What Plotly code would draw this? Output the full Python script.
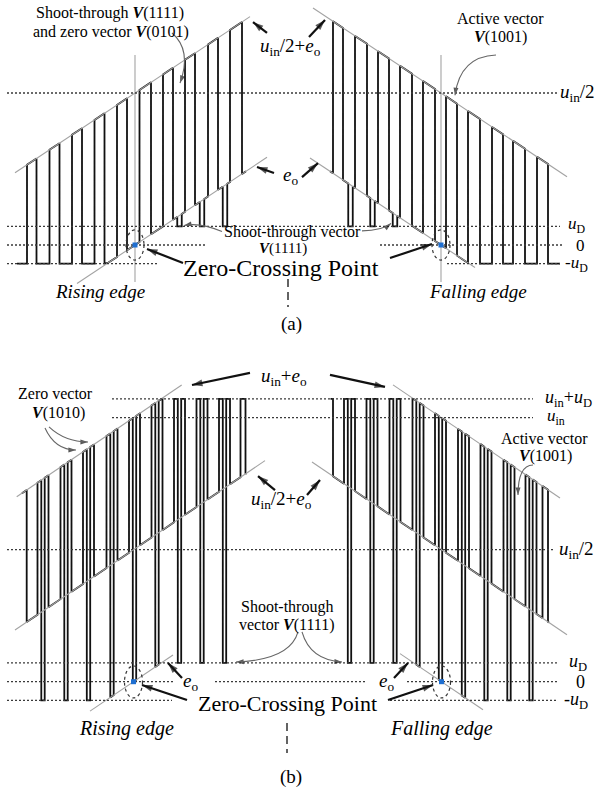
import numpy as np
import plotly.graph_objects as go

# ---------------------------------------------------------------
# Voltage levels (unit = u_in/2) and ramp model of e_o near zero
# ---------------------------------------------------------------
U_HALF = 1.0            # u_in/2
U_IN = 2.0              # u_in
UD_A = 0.122            # diode drop u_D, panel (a) scale
UD_B = 0.142            # diode drop u_D, panel (b) scale
K_A = 0.00437           # de_o/dt in panel (a)
K_B = 0.00513           # de_o/dt in panel (b)
TZ_A = [135.0, 441.0]   # zero-crossing instants (rising, falling), panel (a)
TZ_B = [133.5, 441.5]   # zero-crossing instants (rising, falling), panel (b)

# Panel (a): switching instants of the output voltage
A1_RISE = [27, 49.5, 72, 94.5, 117, 139.5, 163, 185, 208, 230]
A1_FALL = [36.5, 59.5, 82, 104.5, 127, 151, 173, 195, 218, 242]
A1_NOTCH = [179.5, 202, 225]          # shoot-through instants
A1_SPAN = [17, 246]
A2_RISE = [333, 355, 378, 400, 423, 446, 468, 492, 513, 537]
A2_FALL = [343, 367, 389, 412, 435, 457, 480, 503, 525, 548]
A2_NOTCH = [350.5, 372.5, 395]
A2_SPAN = [330, 560]

# Panel (b): centres of the active / shoot-through groups
B1_GROUPS = [43, 66, 88.5, 112, 134.5, 157, 179.5, 202, 224.5]
B1_EDGES = [22, 26.7, 240.5, 245.5, 246.5]   # start, first fall, last rise, last fall, end
B2_GROUPS = [349.5, 372, 395, 418, 440.5, 463.5, 486, 509, 531]
B2_EDGES = [330.5, 333, 542.5, 548, 549]

# Envelope (grey guide line) extents in time
ENV_A = {"up_l": [15, 250], "lo_l": [77, 267], "up_r": [313, 567], "lo_r": [310, 475]}
ENV_B = {"up_l": [16.7, 181.7], "lo_l": [15, 265], "eo_l": [90, 173],
         "up_r": [393, 560], "lo_r": [312, 567], "eo_r": [400, 483]}

NOTCH_W = 4.5
GROUP_HALF = 5.5
ST_HALF = 1.7

BLACK = "#111111"
GREY = "#a3a3a3"
DOT = "#3a3a3a"
SERIF = "Liberation Serif, Times New Roman, serif"

fig = go.Figure()


def eo_a(t, side):
    return K_A * (t - TZ_A[0]) if side == 0 else -K_A * (t - TZ_A[1])


def eo_b(t, side):
    return K_B * (t - TZ_B[0]) if side == 0 else -K_B * (t - TZ_B[1])


def build(segments, step=0.5):
    xs, ys = [], []
    for t0, t1, f in segments:
        n = max(2, int(np.ceil((t1 - t0) / step)) + 1)
        for t in np.linspace(t0, t1, n):
            xs.append(float(t))
            ys.append(float(f(t)))
    return xs, ys


def line(x, y, yref, color=BLACK, width=1.8, dash=None):
    fig.add_trace(go.Scatter(x=x, y=y, mode="lines", yaxis=yref,
                             line=dict(color=color, width=width, dash=dash),
                             hoverinfo="skip", showlegend=False))


# ---------------- Panel (a) waveforms ----------------
def wave_a(rises, falls, notches, span, side):
    high = lambda t: U_HALF + eo_a(t, side)
    low = lambda t: max(-UD_A, eo_a(t, side))
    st = lambda t: UD_A
    lows = [(span[0], rises[0])] + [(falls[i], rises[i + 1]) for i in range(len(rises) - 1)] \
        + [(falls[-1], span[1])]
    segs = []
    for i, (a, b) in enumerate(lows):
        inside = [c for c in notches if a < c < b]
        cur = a
        for c in inside:
            segs.append((cur, c - NOTCH_W / 2, low))
            segs.append((c - NOTCH_W / 2, c + NOTCH_W / 2, st))
            cur = c + NOTCH_W / 2
        segs.append((cur, b, low))
        if i < len(rises):
            segs.append((rises[i], falls[i], high))
    return build(segs)


for rises, falls, notches, span, side in [(A1_RISE, A1_FALL, A1_NOTCH, A1_SPAN, 0),
                                           (A2_RISE, A2_FALL, A2_NOTCH, A2_SPAN, 1)]:
    x, y = wave_a(rises, falls, notches, span, side)
    line(x, y, "y")


# ---------------- Panel (b) waveforms ----------------
def wave_b(groups, edges, side):
    high = lambda t: min(U_IN + eo_b(t, side), U_IN + UD_B)
    zero = lambda t: U_HALF + eo_b(t, side)
    st = lambda t: min(max(eo_b(t, side), -UD_B), UD_B)
    start, first_fall, last_rise, last_fall, end = edges
    segs = [(start, first_fall, high)]
    cur = first_fall
    for g in groups:
        segs.append((cur, g - GROUP_HALF, zero))
        segs.append((g - GROUP_HALF, g - ST_HALF, high))
        segs.append((g - ST_HALF, g + ST_HALF, st))
        segs.append((g + ST_HALF, g + GROUP_HALF, high))
        cur = g + GROUP_HALF
    segs.append((cur, last_rise, zero))
    segs.append((last_rise, last_fall, high))
    segs.append((last_fall, end, zero))
    return build(segs)


for groups, edges, side in [(B1_GROUPS, B1_EDGES, 0), (B2_GROUPS, B2_EDGES, 1)]:
    x, y = wave_b(groups, edges, side)
    line(x, y, "y2")

# ---------------- Grey envelope guides ----------------
for key, offset, side in [("up_l", U_HALF, 0), ("lo_l", 0, 0), ("up_r", U_HALF, 1), ("lo_r", 0, 1)]:
    t = np.array(ENV_A[key], dtype=float)
    line(t, [offset + eo_a(v, side) for v in t], "y", GREY, 1.1)
for key, offset, side in [("up_l", U_IN, 0), ("lo_l", U_HALF, 0), ("eo_l", 0, 0),
                          ("up_r", U_IN, 1), ("lo_r", U_HALF, 1), ("eo_r", 0, 1)]:
    t = np.array(ENV_B[key], dtype=float)
    line(t, [offset + eo_b(v, side) for v in t], "y2", GREY, 1.1)

# zero-crossing verticals in panel (a)
for tz in TZ_A:
    line([tz, tz], [-0.243, 1.25], "y", GREY, 1.1)

# ---------------- Dotted reference levels ----------------
DOTS_A = [(U_HALF, [[7, 557]]), (UD_A, [[7, 560]]), (0, [[7, 205], [380, 563]]),
          (-UD_A, [[7, 157], [447, 560]])]
DOTS_B = [(U_IN + UD_B, [[112, 533]]), (U_IN, [[112, 533]]), (U_HALF, [[7, 553]]),
          (UD_B, [[7, 557]]), (0, [[7, 173], [215, 365], [407, 557]]),
          (-UD_B, [[7, 172], [390, 557]])]
for lev, spans in DOTS_A:
    for s in spans:
        line(s, [lev, lev], "y", DOT, 1.3, "2px,2px")
for lev, spans in DOTS_B:
    for s in spans:
        line(s, [lev, lev], "y2", DOT, 1.3, "2px,2px")

# centre dashed markers under "Zero-Crossing Point"
line([288, 288], [-0.224, -0.408], "y", "#222", 1.4, "8px,5px")
line([287, 287], [-0.313, -0.540], "y2", "#222", 1.4, "8px,5px")

# zero-crossing points
fig.add_trace(go.Scatter(x=TZ_A, y=[0, 0], mode="markers", yaxis="y",
                         marker=dict(symbol="square", size=5, color="#1f6fd1"),
                         hoverinfo="skip", showlegend=False))
fig.add_trace(go.Scatter(x=TZ_B, y=[0, 0], mode="markers", yaxis="y2",
                         marker=dict(symbol="square", size=5, color="#1f6fd1"),
                         hoverinfo="skip", showlegend=False))

# dotted ellipses around zero-crossings
for tz in TZ_A:
    fig.add_shape(type="circle", xref="x", yref="y", x0=tz - 9, x1=tz + 9, y0=-0.099, y1=0.099,
                  line=dict(color="#333", width=1.2, dash="dot"))
for tz in TZ_B:
    fig.add_shape(type="circle", xref="x", yref="y2", x0=tz - 9, x1=tz + 9, y0=-0.123, y1=0.119,
                  line=dict(color="#333", width=1.2, dash="dot"))


# ---------------- Text & arrows ----------------
def text(x, y, s, yref, size=16, italic=False):
    fig.add_annotation(x=x, y=y, xref="x", yref=yref, text=s, showarrow=False,
                       xanchor="center", yanchor="middle",
                       font=dict(family=SERIF, size=size, color="#000000",
                                 style="italic" if italic else "normal"))


def head(x0, y0, x1, y1, yref, size):
    # filled arrowhead whose tip sits at (x1, y1), oriented from (x0, y0)
    fig.add_trace(go.Scatter(x=[x0, x1], y=[y0, y1], mode="markers", yaxis=yref,
                             marker=dict(symbol="arrow", size=[0, size], angleref="previous",
                                         color=BLACK, line=dict(width=0)),
                             hoverinfo="skip", showlegend=False))


def arrow(x, y, ax, ay, yref, width=2.2, size=11):
    line([ax, x], [ay, y], yref, BLACK, width)
    head(ax, ay, x, y, yref, size)


def curved(p0, c, p1, yref):
    fig.add_shape(type="path", xref="x", yref=yref,
                  path=f"M {p0[0]},{p0[1]} Q {c[0]},{c[1]} {p1[0]},{p1[1]}",
                  line=dict(color="#666", width=1.1))
    tail = (p1[0] - 0.15 * (p1[0] - c[0]), p1[1] - 0.15 * (p1[1] - c[1]))
    head(tail[0], tail[1], p1[0], p1[1], yref, 8)


V = "<b><i>V</i></b>"
UIN = "<i>u</i><sub>in</sub>"
EO = "<i>e</i><sub>o</sub>"
UD = "<i>u</i><sub>D</sub>"

# Panel (a)
text(110, 1.526, f"Shoot-through {V}(1111)", "y", 16)
text(111, 1.401, f"and zero vector {V}(0101)", "y", 16)
curved((172, 1.395), (192, 1.283), (180, 1.065), "y")
text(290, 1.300, f"{UIN}/2+{EO}", "y", 19)
arrow(253, 1.467, 267, 1.395, "y")
arrow(325, 1.480, 309, 1.368, "y")
text(500, 1.493, "Active vector", "y", 16)
text(500, 1.368, f"{V}(1001)", "y", 16)
curved((496, 1.25), (460, 1.24), (455, 0.985), "y")
text(577, U_HALF, f"{UIN}/2", "y", 19)
text(290, 0.454, EO, "y", 19)
arrow(257, 0.513, 274, 0.474, "y")
arrow(318, 0.539, 302, 0.447, "y")
text(577, UD_A + 0.012, UD, "y", 17)
text(580, 0, "0", "y", 17)
text(576, -UD_A - 0.006, f"-{UD}", "y", 17)
text(292, 0.088, "Shoot-through vector", "y", 16)
text(283, -0.020, f"{V}(1111)", "y", 15)
curved((222, 0.088), (200, 0.151), (184, 0.128), "y")
curved((362, 0.093), (382, 0.093), (391, 0.142), "y")
text(281, -0.148, "Zero-Crossing Point", "y", 24)
arrow(147, -0.026, 183, -0.118, "y")
arrow(432, 0.007, 390, -0.086, "y")
text(100, -0.309, "Rising edge", "y", 19, italic=True)
text(478, -0.309, "Falling edge", "y", 19, italic=True)
text(291, -0.520, "(a)", "y", 19)

# Panel (b)
text(284, 2.308, f"{UIN}+{EO}", "y2", 19)
arrow(192, 2.248, 250, 2.339, "y2")
arrow(385, 2.233, 330, 2.324, "y2")
text(55, 2.180, "Zero vector", "y2", 16)
text(58, 2.036, f"{V}(1010)", "y2", 16)
curved((45, 1.922), (55, 1.755), (76, 1.755), "y2")
curved((49, 1.930), (65, 1.816), (88, 1.816), "y2")
text(568, U_IN + UD_B, f"{UIN}+{UD}", "y2", 18)
text(556, U_IN + 0.005, UIN, "y2", 17)
text(544, 1.842, "Active vector", "y2", 16)
text(545, 1.710, f"{V}(1001)", "y2", 16)
curved((533, 1.642), (518, 1.64), (518, 1.414), "y2")
text(281, 1.377, f"{UIN}/2+{EO}", "y2", 19)
arrow(258, 1.558, 275, 1.452, "y2")
arrow(320, 1.528, 307, 1.414, "y2")
text(576, U_HALF, f"{UIN}/2", "y2", 19)
text(287, 0.566, "Shoot-through", "y2", 16)
text(287, 0.430, f"vector {V}(1111)", "y2", 16)
curved((298, 0.377), (290, 0.164), (236, 0.149), "y2")
curved((302, 0.377), (310, 0.164), (342, 0.149), "y2")
text(190, 0.0, EO, "y2", 19)
arrow(168, 0.142, 182, 0.028, "y2")
text(386, 0.0, EO, "y2", 19)
arrow(408, 0.142, 394, 0.028, "y2")
text(578, UD_B, UD, "y2", 18)
text(580, 0, "0", "y2", 18)
text(576, -UD_B, f"-{UD}", "y2", 18)
text(287, -0.165, "Zero-Crossing Point", "y2", 22)
arrow(142, -0.025, 187, -0.139, "y2")
arrow(433, -0.025, 388, -0.139, "y2")
text(126, -0.351, "Rising edge", "y2", 20, italic=True)
text(441, -0.351, "Falling edge", "y2", 20, italic=True)
text(291, -0.722, "(b)", "y2", 19)

fig.update_layout(
    width=601, height=789,
    margin=dict(l=0, r=0, t=0, b=0),
    paper_bgcolor="white", plot_bgcolor="white",
    showlegend=False,
    xaxis=dict(range=[0, 601], domain=[0, 1], visible=False, fixedrange=True),
    yaxis=dict(range=[(245 - 789) / 152, 245 / 152], domain=[0, 1], visible=False, fixedrange=True),
    yaxis2=dict(range=[(681.7 - 789) / 132, 681.7 / 132], domain=[0, 1], overlaying="y",
                anchor="x", visible=False, fixedrange=True),
)

fig.write_html("out.html")
